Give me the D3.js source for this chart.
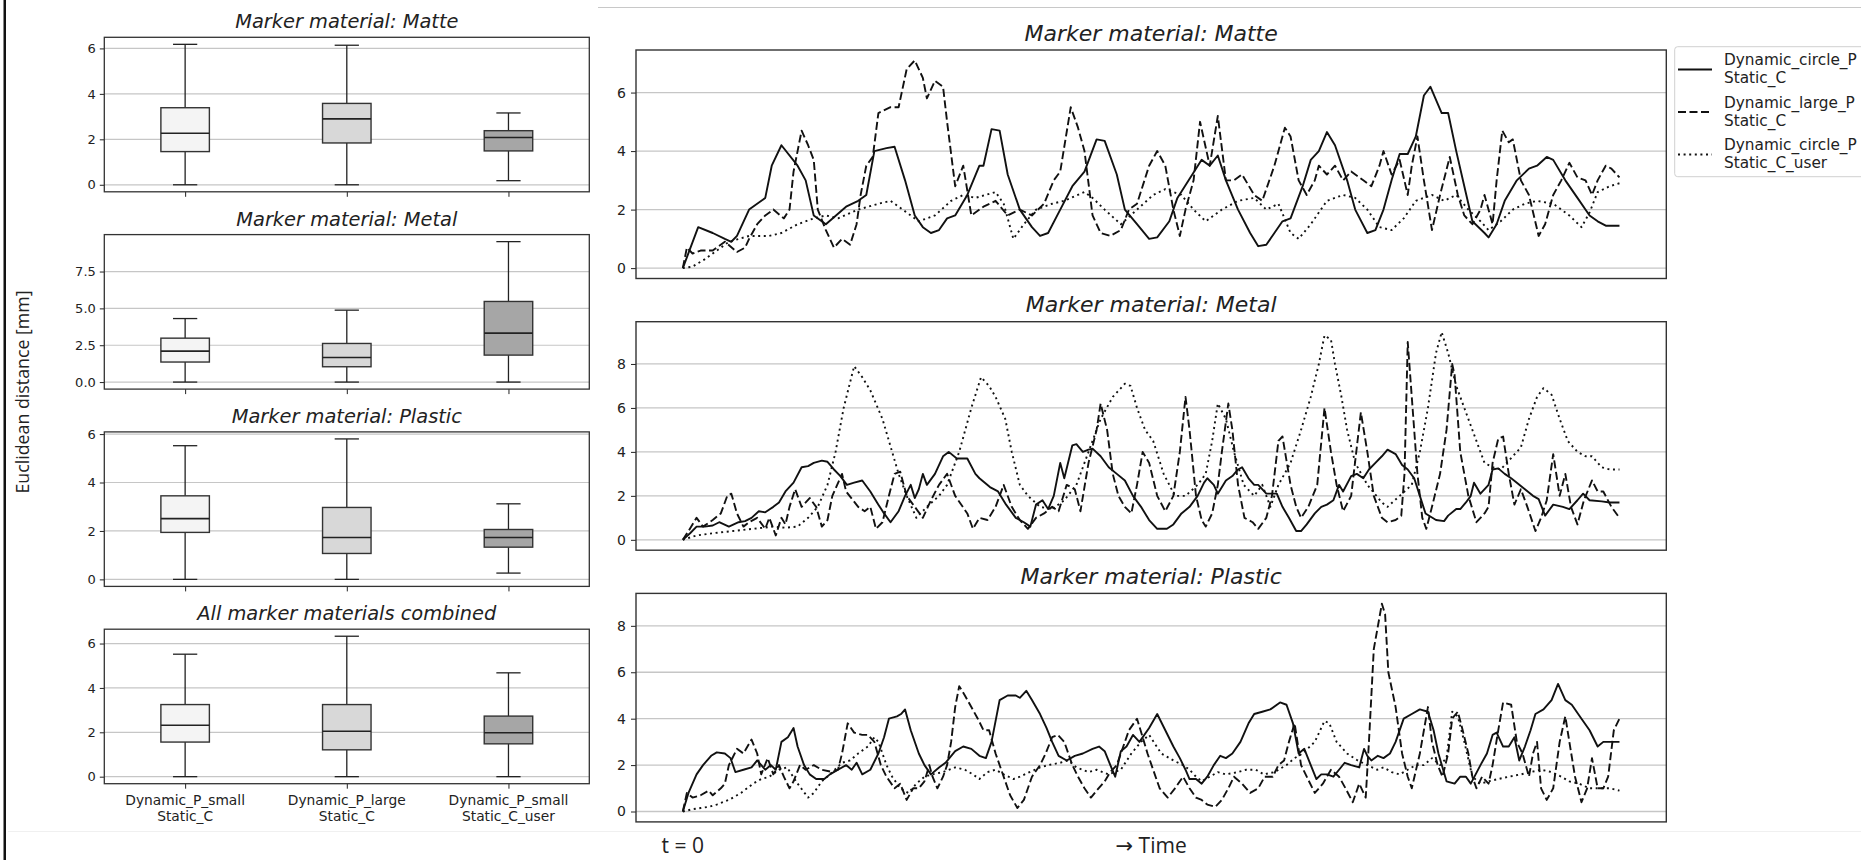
<!DOCTYPE html>
<html>
<head>
<meta charset="utf-8">
<script src="https://cdn.jsdelivr.net/npm/d3@7"></script>
<style>
  body { margin: 0; background: #fff; }
  svg text { font-family: "DejaVu Sans", sans-serif; fill: #222; }
  .note { font-family: "Open Sans", "DejaVu Sans", sans-serif; }
</style>
</head>
<body>
<div id="chart"></div>
<script>
// ---- box plot data: [lower whisker, Q1, median, Q3, upper whisker]
const groups = ["Dynamic_P_small|Static_C", "Dynamic_P_large|Static_C", "Dynamic_P_small|Static_C_user"];
const boxFills = ["#f4f4f4", "#d8d8d8", "#a6a6a6"];
const boxMatte = [[0, 1.46, 2.27, 3.39, 6.18], [0, 1.84, 2.90, 3.58, 6.14], [0.18, 1.49, 2.08, 2.38, 3.16]];
const boxMetal = [[0, 1.36, 2.10, 2.98, 4.31], [0, 1.04, 1.67, 2.62, 4.88], [0, 1.83, 3.32, 5.47, 9.53]];
const boxPlastic = [[0, 1.94, 2.51, 3.45, 5.52], [0, 1.07, 1.73, 2.97, 5.80], [0.26, 1.33, 1.73, 2.06, 3.12]];
const boxAll = [[0, 1.56, 2.32, 3.25, 5.52], [0, 1.21, 2.05, 3.25, 6.33], [0, 1.48, 1.98, 2.73, 4.68]];
const boxTitles = ["Marker material: Matte", "Marker material: Metal", "Marker material: Plastic", "All marker materials combined"];
const boxTicks = [[0, 2, 4, 6], [0, 2.5, 5, 7.5], [0, 2, 4, 6], [0, 2, 4, 6]];

// ---- time series: [time, distance]
const matteSolid = [[0,0],[19,1.4],[37,1.2],[52,1.0],[60,0.9],[67,1.1],[82,2.0],[102,2.4],[110,3.5],[122,4.2],[142,3.5],[152,3.0],[162,1.8],[177,1.5],[202,2.1],[217,2.3],[227,2.5],[237,4.0],[252,4.1],[262,4.15],[275,3.0],[287,1.8],[297,1.4],[307,1.2],[317,1.3],[327,1.7],[337,1.8],[352,2.5],[367,3.5],[372,3.5],[382,4.75],[392,4.7],[402,3.2],[417,2.0],[432,1.4],[442,1.1],[452,1.2],[467,2.0],[482,2.8],[497,3.3],[512,4.4],[522,4.35],[537,3.2],[547,2.0],[562,1.5],[577,1.0],[587,1.05],[602,1.6],[612,2.4],[642,3.7],[652,3.5],[662,3.85],[672,3.0],[687,2.0],[702,1.2],[712,0.75],[722,0.8],[732,1.2],[742,1.6],[752,1.7],[767,2.8],[777,3.7],[787,4.0],[797,4.65],[807,4.2],[822,3.0],[832,2.0],[847,1.2],[857,1.3],[867,2.0],[877,3.0],[887,3.9],[897,3.9],[907,4.5],[917,5.9],[925,6.2],[939,5.3],[947,5.3],[957,4.0],[967,2.8],[977,1.6],[992,1.2],[997,1.05],[1007,1.5],[1017,2.3],[1032,3.0],[1047,3.4],[1057,3.5],[1069,3.8],[1077,3.7],[1092,3.0],[1107,2.4],[1122,1.8],[1132,1.6],[1142,1.45],[1159,1.45]];
const matteDashed = [[0,0],[5,0.7],[12,0.5],[22,0.6],[37,0.6],[52,0.9],[67,0.55],[77,0.7],[82,1.0],[92,1.5],[102,1.8],[112,2.0],[125,1.7],[132,2.0],[137,3.3],[147,4.7],[155,4.2],[162,3.7],[167,2.0],[177,1.3],[187,0.7],[197,1.0],[207,0.8],[215,1.5],[220,2.5],[227,3.5],[235,3.8],[242,5.3],[257,5.5],[267,5.5],[277,6.8],[287,7.1],[297,6.5],[302,5.8],[312,6.4],[322,6.2],[327,5.0],[337,2.8],[347,3.5],[357,1.8],[372,2.1],[387,2.3],[402,1.8],[417,2.0],[432,1.8],[447,2.2],[459,3.0],[467,3.3],[480,5.5],[489,4.8],[497,4.0],[507,1.8],[517,1.2],[529,1.1],[542,1.3],[552,2.0],[562,2.2],[577,3.5],[587,4.0],[597,3.5],[607,2.0],[615,1.1],[622,2.0],[632,3.0],[640,5.0],[652,3.5],[662,5.2],[672,3.0],[682,3.0],[692,3.2],[707,2.5],[717,2.3],[732,3.5],[745,4.8],[752,4.5],[762,3.0],[772,2.5],[782,3.0],[787,3.5],[797,3.2],[807,3.5],[817,3.0],[827,3.3],[842,3.0],[852,2.8],[862,3.5],[867,4.0],[877,3.2],[887,3.7],[897,2.5],[902,3.5],[909,4.5],[917,3.0],[927,1.3],[937,2.5],[949,3.8],[959,2.5],[967,1.8],[977,1.5],[987,2.0],[992,2.5],[1002,1.5],[1007,3.0],[1014,4.7],[1022,4.3],[1027,4.4],[1037,3.0],[1047,2.5],[1059,1.1],[1067,1.5],[1077,2.5],[1087,3.0],[1097,3.6],[1107,3.1],[1117,3.0],[1125,2.5],[1132,3.0],[1142,3.5],[1149,3.4],[1159,3.1]];
const matteDotted = [[0,0],[12,0.05],[27,0.3],[42,0.6],[57,0.9],[82,1.1],[107,1.1],[122,1.2],[142,1.5],[162,1.7],[177,1.8],[192,1.7],[217,2.0],[242,2.2],[257,2.3],[272,2.0],[292,1.6],[312,1.8],[332,2.3],[347,2.5],[362,2.4],[387,2.6],[397,2.2],[409,1.0],[422,1.5],[437,2.0],[457,2.2],[472,2.3],[497,2.6],[507,2.4],[522,2.0],[542,1.5],[562,2.0],[582,2.5],[597,2.7],[617,2.5],[632,2.0],[647,1.6],[667,2.0],[687,2.3],[707,2.4],[722,2.0],[737,2.2],[752,1.2],[762,1.0],[777,1.5],[797,2.3],[817,2.5],[832,2.4],[847,2.0],[862,1.4],[877,1.3],[892,1.7],[907,2.3],[927,2.5],[942,2.3],[957,2.5],[972,2.0],[987,1.6],[997,1.3],[1012,1.6],[1027,2.0],[1042,2.2],[1057,2.3],[1077,2.2],[1097,1.8],[1112,1.4],[1122,1.9],[1132,2.6],[1147,2.8],[1159,2.9]];

const metalSolid = [[0,0],[9,0.3],[17,0.6],[27,0.6],[37,0.65],[45,0.8],[57,0.6],[69,0.8],[77,0.85],[85,1.0],[94,1.3],[102,1.25],[112,1.5],[119,1.7],[127,2.2],[137,2.6],[147,3.3],[155,3.35],[162,3.5],[172,3.6],[179,3.55],[187,3.2],[195,2.9],[203,2.5],[212,2.6],[222,2.7],[232,2.2],[242,1.6],[249,1.2],[257,0.8],[267,1.3],[275,2.0],[282,2.5],[287,1.9],[292,2.3],[297,3.0],[302,2.5],[312,3.0],[322,3.8],[329,4.0],[339,3.7],[352,3.7],[362,3.0],[367,2.8],[380,2.4],[390,2.2],[400,1.6],[412,1.0],[422,0.8],[430,0.6],[437,1.6],[445,1.8],[452,1.4],[459,2.0],[467,3.5],[472,2.8],[482,4.3],[487,4.35],[495,4.0],[502,4.1],[507,4.15],[517,3.8],[527,3.3],[537,3.0],[547,2.7],[557,2.0],[567,1.5],[577,0.9],[587,0.5],[599,0.5],[607,0.7],[617,1.2],[627,1.5],[637,2.0],[645,2.6],[649,2.8],[657,2.5],[662,2.1],[672,2.7],[680,2.9],[687,3.2],[692,3.3],[700,2.8],[707,2.5],[712,2.5],[722,2.1],[735,2.1],[742,1.5],[750,1.0],[759,0.4],[765,0.4],[772,0.7],[782,1.2],[790,1.5],[797,1.6],[805,1.8],[812,2.5],[817,2.2],[827,2.9],[834,3.0],[842,2.8],[849,3.2],[857,3.5],[865,3.8],[872,4.1],[882,3.9],[890,3.4],[897,3.2],[905,2.8],[912,2.0],[919,1.2],[932,0.9],[942,0.85],[947,1.1],[957,1.4],[962,1.4],[969,1.7],[975,2.0],[979,2.6],[987,2.1],[997,2.5],[1002,3.2],[1009,3.25],[1017,3.0],[1025,2.8],[1032,2.6],[1042,2.3],[1052,2.0],[1059,1.85],[1067,1.1],[1077,1.6],[1089,1.5],[1097,1.4],[1107,1.8],[1114,2.1],[1122,1.8],[1137,1.75],[1147,1.7],[1159,1.7]];
const metalDashed = [[0,0],[7,0.4],[17,1.0],[25,0.6],[37,0.9],[47,1.2],[55,2.0],[60,2.1],[67,1.2],[75,0.6],[82,0.8],[92,1.0],[102,0.5],[107,1.0],[115,0.2],[122,1.0],[127,0.7],[132,1.5],[139,2.3],[147,1.5],[157,1.9],[165,1.5],[172,0.6],[179,0.9],[185,2.0],[197,3.0],[202,2.2],[217,1.5],[225,1.3],[232,1.5],[239,0.5],[247,0.8],[255,2.0],[262,3.0],[269,3.1],[277,2.0],[297,1.0],[307,1.8],[317,2.5],[327,3.0],[337,2.0],[352,1.2],[359,0.5],[367,1.0],[377,0.9],[387,1.5],[397,2.5],[407,1.5],[417,0.9],[427,0.5],[437,1.0],[447,1.2],[457,1.5],[465,1.3],[475,2.5],[485,2.3],[492,1.3],[502,3.5],[512,5.0],[517,6.2],[525,5.0],[532,3.0],[539,2.0],[547,1.5],[555,1.2],[562,2.5],[569,4.0],[577,3.5],[587,2.0],[597,1.3],[607,2.0],[615,4.0],[622,6.5],[627,5.0],[635,2.0],[642,0.9],[647,0.6],[655,1.2],[662,2.5],[667,4.0],[675,6.2],[680,5.0],[687,2.5],[695,1.0],[705,0.8],[712,0.5],[722,1.0],[729,2.0],[737,4.5],[742,4.7],[752,2.5],[759,1.5],[765,1.0],[774,1.5],[785,2.5],[794,6.0],[802,4.0],[809,2.5],[817,1.3],[827,2.0],[839,5.8],[847,4.0],[855,2.0],[865,1.0],[872,0.8],[882,0.9],[889,1.1],[893,3.0],[897,9.0],[903,6.0],[909,3.0],[915,1.0],[920,0.5],[927,1.5],[937,3.0],[945,5.0],[952,8.0],[955,7.5],[962,4.0],[972,2.0],[982,0.8],[992,1.2],[997,1.5],[1002,3.5],[1009,4.6],[1015,4.7],[1022,3.0],[1029,1.6],[1037,2.3],[1045,1.5],[1055,0.4],[1062,1.0],[1069,1.8],[1077,3.9],[1085,2.0],[1092,3.0],[1099,1.5],[1107,0.7],[1115,1.8],[1125,2.7],[1132,2.2],[1139,2.2],[1149,1.5],[1159,1.0]];
const metalDotted = [[0,0],[17,0.2],[37,0.3],[62,0.4],[87,0.5],[112,0.6],[127,0.55],[142,0.6],[155,1.0],[167,1.5],[179,2.5],[189,4.0],[199,6.0],[212,7.9],[222,7.4],[232,6.8],[247,5.5],[255,4.5],[267,3.0],[277,2.0],[289,1.0],[302,1.5],[317,2.0],[327,2.5],[342,4.0],[357,6.0],[369,7.4],[379,7.0],[387,6.5],[399,5.5],[407,4.0],[417,2.5],[427,2.0],[442,1.5],[457,1.4],[472,1.8],[487,2.5],[502,4.0],[517,5.5],[532,6.5],[547,7.1],[554,7.0],[562,6.0],[572,5.0],[582,4.5],[595,3.0],[609,2.0],[622,2.0],[637,2.5],[647,3.0],[655,4.5],[662,6.2],[672,5.5],[682,4.0],[694,2.5],[707,2.0],[717,2.5],[727,1.5],[737,2.5],[752,3.5],[765,5.0],[777,6.5],[787,8.0],[794,9.3],[802,9.1],[807,8.0],[815,6.5],[822,5.0],[832,3.5],[847,2.5],[865,1.7],[872,1.5],[887,2.0],[902,2.5],[912,4.0],[922,6.0],[932,8.5],[939,9.45],[947,8.5],[957,7.0],[972,5.5],[982,4.5],[992,3.5],[1002,3.3],[1012,3.2],[1027,3.8],[1037,4.2],[1047,5.5],[1057,6.5],[1065,6.9],[1075,6.6],[1085,5.5],[1095,4.5],[1107,4.0],[1117,3.8],[1125,3.8],[1137,3.3],[1147,3.2],[1159,3.2]];

const plasticSolid = [[0,0],[7,0.8],[17,1.6],[25,2.0],[35,2.4],[42,2.55],[52,2.5],[59,2.3],[65,1.7],[75,1.8],[85,1.9],[92,2.2],[102,1.8],[109,2.0],[115,1.8],[122,3.0],[130,3.2],[137,3.6],[142,2.8],[150,2.0],[157,1.6],[165,1.4],[175,1.4],[182,1.6],[192,1.8],[202,2.0],[209,1.8],[215,2.1],[222,1.6],[232,1.8],[242,2.5],[249,3.2],[255,4.0],[265,4.1],[270,4.2],[275,4.4],[282,3.5],[292,2.5],[299,2.0],[307,1.6],[317,1.9],[325,2.1],[337,2.6],[347,2.8],[357,2.7],[367,2.4],[375,2.3],[382,3.0],[392,4.8],[402,5.0],[412,5.0],[417,4.9],[425,5.2],[432,4.8],[442,4.2],[450,3.6],[457,3.0],[465,2.4],[475,2.2],[485,2.4],[495,2.5],[507,2.7],[515,2.8],[522,2.6],[529,2.0],[535,1.5],[542,2.6],[549,2.8],[557,3.3],[565,3.0],[577,3.6],[587,4.2],[597,3.5],[607,2.8],[615,2.3],[622,1.8],[627,1.4],[635,1.4],[642,1.2],[649,1.5],[657,2.0],[665,2.4],[672,2.3],[680,2.5],[690,3.0],[700,3.8],[707,4.2],[717,4.3],[727,4.4],[739,4.7],[747,4.6],[755,3.8],[762,2.5],[769,2.7],[777,2.0],[784,1.4],[790,1.6],[797,1.6],[805,1.5],[812,1.8],[819,2.1],[827,2.0],[837,1.9],[843,2.7],[847,2.4],[852,2.2],[860,2.4],[867,2.3],[875,2.5],[882,3.0],[892,4.0],[902,4.2],[912,4.4],[922,4.3],[929,3.5],[935,2.5],[945,1.3],[955,1.2],[962,1.5],[969,1.5],[975,1.2],[987,2.0],[995,2.5],[1002,3.3],[1007,3.4],[1015,2.8],[1022,2.8],[1029,3.2],[1035,2.2],[1042,2.8],[1049,3.5],[1055,4.2],[1065,4.4],[1075,4.8],[1083,5.5],[1092,4.8],[1100,4.6],[1112,4.0],[1122,3.5],[1132,2.8],[1139,3.0],[1159,3.0]];
const plasticDashed = [[0,0],[5,0.8],[12,0.6],[22,0.7],[32,0.9],[37,0.7],[47,1.0],[52,1.2],[57,2.0],[67,2.7],[75,2.5],[85,3.1],[92,2.5],[97,1.6],[105,2.3],[112,1.6],[119,2.0],[125,1.5],[132,1.0],[137,1.3],[145,2.0],[152,1.8],[162,2.0],[172,1.8],[185,1.7],[192,1.8],[197,2.5],[204,3.8],[212,3.4],[222,3.3],[229,3.3],[237,3.0],[245,2.0],[252,1.5],[262,1.0],[269,1.2],[277,0.5],[285,1.0],[292,1.0],[299,1.3],[305,2.0],[309,1.5],[315,1.0],[322,1.5],[327,2.0],[332,3.0],[337,4.5],[342,5.4],[349,5.0],[357,4.5],[365,4.0],[372,3.5],[379,3.5],[387,2.5],[394,1.8],[405,0.7],[414,0.15],[422,0.5],[432,1.5],[442,2.0],[449,2.5],[457,3.2],[464,3.3],[472,3.0],[482,2.0],[489,1.5],[497,1.0],[505,0.6],[512,0.9],[522,1.3],[529,1.7],[537,2.0],[545,2.8],[552,3.5],[562,4.0],[569,3.2],[575,2.5],[582,1.8],[590,1.0],[600,0.6],[609,1.0],[619,1.5],[627,1.0],[635,0.6],[642,0.5],[649,0.3],[659,0.2],[667,0.5],[675,1.0],[682,1.5],[692,1.2],[702,0.8],[712,1.0],[720,1.5],[730,1.5],[737,2.0],[744,2.2],[750,3.0],[757,3.8],[765,2.0],[772,1.5],[782,0.8],[792,1.2],[802,1.8],[812,1.5],[820,1.0],[829,0.4],[837,1.2],[845,0.6],[849,3.0],[855,7.0],[865,8.95],[869,8.5],[873,6.0],[882,4.5],[890,2.5],[897,1.5],[902,1.0],[912,2.5],[922,4.5],[927,3.0],[934,2.0],[940,1.5],[947,2.5],[952,4.0],[959,4.3],[965,3.5],[972,2.5],[977,1.5],[982,1.0],[989,1.5],[997,1.2],[1002,2.0],[1009,3.5],[1015,4.7],[1025,4.6],[1032,3.0],[1039,2.5],[1047,1.5],[1052,2.5],[1057,3.0],[1062,1.0],[1069,0.5],[1077,1.0],[1085,3.0],[1092,4.1],[1097,3.0],[1104,1.5],[1112,0.4],[1119,1.0],[1125,2.3],[1132,1.0],[1139,1.0],[1145,1.5],[1152,3.5],[1159,4.0]];
const plasticDotted = [[0,0],[12,0.1],[22,0.15],[32,0.2],[42,0.3],[57,0.5],[72,0.8],[87,1.2],[97,1.4],[107,1.5],[119,1.8],[129,1.9],[142,1.2],[155,0.6],[162,0.8],[172,1.3],[182,1.6],[197,2.1],[207,2.2],[217,2.5],[229,2.8],[237,3.2],[242,3.0],[252,2.0],[259,1.5],[269,1.0],[279,0.8],[289,1.2],[299,1.5],[309,1.6],[322,1.7],[337,1.9],[349,1.8],[359,1.6],[367,1.4],[377,1.7],[387,1.8],[397,1.6],[409,1.4],[417,1.5],[429,1.7],[442,1.9],[452,2.0],[467,2.1],[477,2.2],[487,1.9],[502,1.7],[512,1.8],[527,1.6],[542,1.8],[555,2.5],[567,3.0],[577,3.3],[592,2.5],[607,2.2],[619,2.0],[627,1.8],[635,1.5],[642,1.3],[652,1.5],[662,1.7],[672,1.6],[687,1.7],[697,1.8],[709,1.8],[719,1.6],[732,1.7],[747,2.0],[757,2.3],[767,2.5],[782,3.0],[794,3.9],[800,3.8],[809,3.0],[822,2.5],[835,2.2],[847,2.0],[859,1.8],[867,1.9],[877,1.7],[887,1.6],[897,1.8],[907,2.0],[917,2.0],[927,2.3],[937,2.0],[945,2.3],[952,4.3],[959,4.1],[967,3.0],[977,1.5],[987,1.2],[997,1.3],[1009,1.4],[1022,1.5],[1037,1.6],[1049,1.7],[1062,1.8],[1075,1.7],[1087,1.5],[1097,1.3],[1109,1.2],[1122,1.0],[1137,1.0],[1147,1.0],[1159,0.9]];

const lineTitles = ["Marker material: Matte", "Marker material: Metal", "Marker material: Plastic"];
const lineTicks = [[0, 2, 4, 6], [0, 2, 4, 6, 8], [0, 2, 4, 6, 8]];
const legendLabels = ["Dynamic_circle_P|Static_C", "Dynamic_large_P|Static_C", "Dynamic_circle_P|Static_C_user"];
const dashes = [null, "8,3.5", "2,3.6"];

const svg = d3.select("#chart").append("svg")
  .attr("width", 1861)
  .attr("height", 860);

// slide decorations
svg.append("rect").attr("x", 3.5).attr("y", 0).attr("width", 2.5).attr("height", 860).attr("fill", "#111");
svg.append("line").attr("x1", 598).attr("x2", 1861).attr("y1", 7.5).attr("y2", 7.5)
  .attr("stroke", "#c8c8c8").attr("stroke-width", 1);
svg.append("line").attr("x1", 8).attr("x2", 1861).attr("y1", 831.5).attr("y2", 831.5)
  .attr("stroke", "#f0f0f0").attr("stroke-width", 1);

// ---- left column: box plots
const boxData = [boxMatte, boxMetal, boxPlastic, boxAll];
const bx0 = 104.3, bx1 = 589.3, bh = 154.5;

boxData.forEach(function(stats, i) {
  const top = 37.3 + i * 197.3;
  const g = svg.append("g");
  const lo = d3.min(stats, d => d[0]), hi = d3.max(stats, d => d[4]);
  const pad = (hi - lo) * 0.05;
  const y = d3.scaleLinear().domain([lo - pad, hi + pad]).range([top + bh, top]);
  const x = d3.scaleLinear().domain([0.5, 3.5]).range([bx0, bx1]);
  const fmt = i === 1 ? d3.format(".1f") : d3.format("d");

  g.selectAll(".grid").data(boxTicks[i]).enter().append("line")
    .attr("x1", bx0).attr("x2", bx1)
    .attr("y1", d => y(d)).attr("y2", d => y(d))
    .attr("stroke", "#c6c6c6").attr("stroke-width", 1.2);

  const yAxis = g.append("g").attr("transform", "translate(" + bx0 + ",0)")
    .call(d3.axisLeft(y).tickValues(boxTicks[i]).tickSize(4.5).tickPadding(4).tickFormat(fmt));
  yAxis.select(".domain").remove();
  yAxis.selectAll("line").attr("stroke", "#222");
  yAxis.selectAll("text").style("font-size", "13px").attr("fill", "#222");

  const xAxis = g.append("g").attr("transform", "translate(0," + (top + bh) + ")")
    .call(d3.axisBottom(x).tickValues([1, 2, 3]).tickSize(5).tickFormat(""));
  xAxis.select(".domain").remove();
  xAxis.selectAll("line").attr("stroke", "#222");

  const half = 0.15, cap = 0.075;
  stats.forEach(function(s, j) {
    const c = j + 1;
    g.append("line").attr("x1", x(c)).attr("x2", x(c)).attr("y1", y(s[0])).attr("y2", y(s[1]))
      .attr("stroke", "#222").attr("stroke-width", 1.3);
    g.append("line").attr("x1", x(c)).attr("x2", x(c)).attr("y1", y(s[3])).attr("y2", y(s[4]))
      .attr("stroke", "#222").attr("stroke-width", 1.3);
    [s[0], s[4]].forEach(function(v) {
      g.append("line").attr("x1", x(c - cap)).attr("x2", x(c + cap)).attr("y1", y(v)).attr("y2", y(v))
        .attr("stroke", "#222").attr("stroke-width", 1.3);
    });
    g.append("rect").attr("x", x(c - half)).attr("width", x(c + half) - x(c - half))
      .attr("y", y(s[3])).attr("height", y(s[1]) - y(s[3]))
      .attr("fill", boxFills[j]).attr("stroke", "#333").attr("stroke-width", 1.4);
    g.append("line").attr("x1", x(c - half)).attr("x2", x(c + half)).attr("y1", y(s[2])).attr("y2", y(s[2]))
      .attr("stroke", "#222").attr("stroke-width", 1.6);
  });

  g.append("rect").attr("x", bx0).attr("y", top).attr("width", bx1 - bx0).attr("height", bh)
    .attr("fill", "none").attr("stroke", "#333").attr("stroke-width", 1.3);

  g.append("text").attr("x", (bx0 + bx1) / 2).attr("y", top - 9)
    .attr("text-anchor", "middle").style("font-size", "19.4px").style("font-style", "italic")
    .text(boxTitles[i]);

  if (i === 3) {
    groups.forEach(function(lbl, j) {
      const t = g.append("text").attr("text-anchor", "middle").style("font-size", "13.8px");
      lbl.split("|").forEach(function(part, k) {
        t.append("tspan").attr("x", x(j + 1)).attr("y", top + bh + 21 + k * 16.5).text(part);
      });
    });
  }
});

svg.append("text").attr("class", "note")
  .attr("transform", "translate(29,392) rotate(-90)")
  .attr("text-anchor", "middle").style("font-size", "17.8px")
  .text("Euclidean distance [mm]");

// ---- right column: time lines
const lineData = [
  [matteSolid, matteDashed, matteDotted],
  [metalSolid, metalDashed, metalDotted],
  [plasticSolid, plasticDashed, plasticDotted]
];
const lx0 = 636, lx1 = 1666.3, lh = 228.5;
const tMax = d3.max(matteSolid, d => d[0]);
const xt = d3.scaleLinear().domain([-0.05 * tMax, 1.05 * tMax]).range([lx0, lx1]);

lineData.forEach(function(series, i) {
  const top = 50 + i * 271.7;
  const g = svg.append("g");
  const hi = d3.max(series, s => d3.max(s, d => d[1]));
  const y = d3.scaleLinear().domain([-0.05 * hi, 1.05 * hi]).range([top + lh, top]);

  g.selectAll(".grid").data(lineTicks[i]).enter().append("line")
    .attr("x1", lx0).attr("x2", lx1)
    .attr("y1", d => y(d)).attr("y2", d => y(d))
    .attr("stroke", "#c6c6c6").attr("stroke-width", 1.3);

  const yAxis = g.append("g").attr("transform", "translate(" + lx0 + ",0)")
    .call(d3.axisLeft(y).tickValues(lineTicks[i]).tickSize(5).tickPadding(5).tickFormat(d3.format("d")));
  yAxis.select(".domain").remove();
  yAxis.selectAll("line").attr("stroke", "#222");
  yAxis.selectAll("text").style("font-size", "14px").attr("fill", "#222");

  const line = d3.line().x(d => xt(d[0])).y(d => y(d[1]));
  series.forEach(function(s, j) {
    g.append("path").datum(s).attr("d", line)
      .attr("fill", "none").attr("stroke", "#111").attr("stroke-width", 1.9)
      .attr("stroke-linejoin", "round")
      .attr("stroke-dasharray", dashes[j]);
  });

  g.append("rect").attr("x", lx0).attr("y", top).attr("width", lx1 - lx0).attr("height", lh)
    .attr("fill", "none").attr("stroke", "#333").attr("stroke-width", 1.4);

  g.append("text").attr("x", (lx0 + lx1) / 2).attr("y", top - 9.5)
    .attr("text-anchor", "middle").style("font-size", "22px").style("font-style", "italic")
    .text(lineTitles[i]);
});

// legend
const legend = svg.append("g");
legend.append("rect").attr("x", 1674.7).attr("y", 46.7).attr("width", 200).attr("height", 130)
  .attr("rx", 3).attr("fill", "#fff").attr("stroke", "#d0d0d0").attr("stroke-width", 1);
legendLabels.forEach(function(lbl, i) {
  const base = 65 + i * 42.5;
  legend.append("line").attr("x1", 1678).attr("x2", 1712).attr("y1", base + 4.5).attr("y2", base + 4.5)
    .attr("stroke", "#111").attr("stroke-width", 1.9).attr("stroke-dasharray", dashes[i]);
  const t = legend.append("text").style("font-size", "15.3px");
  lbl.split("|").forEach(function(part, k) {
    t.append("tspan").attr("x", 1724).attr("y", base + k * 18).text(part);
  });
});

// time annotations
svg.append("text").attr("class", "note").attr("x", xt(0)).attr("y", 853)
  .attr("text-anchor", "middle").style("font-size", "21px").attr("fill", "#111").text("t = 0");
svg.append("text").attr("class", "note").attr("x", (lx0 + lx1) / 2).attr("y", 853)
  .attr("text-anchor", "middle").style("font-size", "21px").attr("fill", "#111").text("\u2192 Time");
</script>
</body>
</html>
